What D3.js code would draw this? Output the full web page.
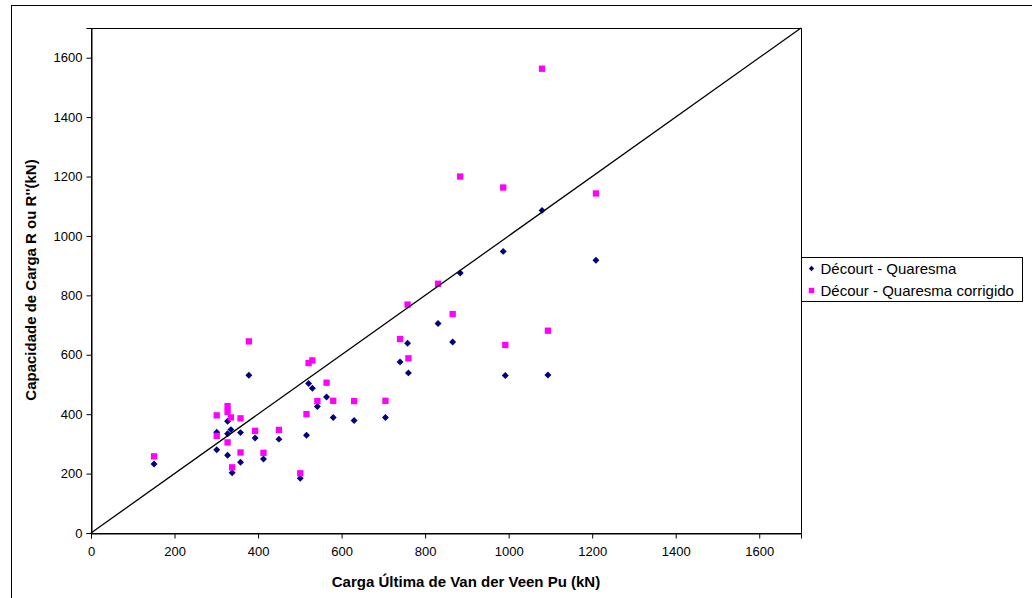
<!DOCTYPE html>
<html>
<head>
<meta charset="utf-8">
<script src="https://cdn.jsdelivr.net/npm/d3@7"></script>
<style>
  body { margin: 0; background: #fff; }
  svg { display: block; font-family: "Liberation Sans", Arial, sans-serif; }
</style>
</head>
<body>
<svg id="chart" width="1032" height="598"></svg>
<script>
// Carga Última de Van der Veen Pu (kN)
var pu = [151, 301, 301, 327, 327, 327, 335, 338, 358, 358, 378, 393, 413, 450, 501, 516,
          521, 530, 542, 564, 580, 630, 705, 740, 758, 760, 831, 866, 884, 987, 992, 1080, 1094, 1209];
// Décourt - Quaresma (R)
var decourt = [232, 339, 280, 376, 334, 262, 348, 203, 338, 238, 531, 320, 249, 316, 184, 329,
               503, 487, 426, 458, 389, 379, 389, 576, 639, 539, 705, 643, 875, 948, 530, 1086, 532, 918];
// Décour - Quaresma corrigido (R'')
var corrigido = [258, 396, 327, 427, 408, 305, 389, 221, 386, 271, 645, 344, 270, 347, 201, 400,
                 572, 581, 444, 506, 445, 444, 445, 653, 769, 588, 839, 737, 1200, 1163, 633, 1563, 681, 1143];
var ticks = [0, 200, 400, 600, 800, 1000, 1200, 1400, 1600];
var seriesNames = ["Décourt - Quaresma", "Décour - Quaresma corrigido"];

var svg = d3.select("#chart");
var pLeft = 91, pRight = 801, pTop = 28, pBottom = 533;

var x = d3.scaleLinear().domain([0, 1700]).range([pLeft, pRight]);
var y = d3.scaleLinear().domain([0, 1700]).range([pBottom, pTop]);

// moldura externa
svg.append("rect")
  .attr("x", 11.5).attr("y", 5.5)
  .attr("width", 1040).attr("height", 600)
  .attr("fill", "none").attr("stroke", "#000").attr("stroke-width", 1);

// area do grafico
svg.append("rect")
  .attr("x", pLeft + 0.5).attr("y", pTop + 0.5)
  .attr("width", pRight - pLeft).attr("height", pBottom - pTop)
  .attr("fill", "#fff").attr("stroke", "#000").attr("stroke-width", 1);

var xAxis = svg.append("g")
  .attr("transform", "translate(0," + (pBottom + 0.5) + ")")
  .call(d3.axisBottom(x).tickValues(ticks).tickSize(5).tickPadding(8).tickFormat(d3.format("d")));
var yAxis = svg.append("g")
  .attr("transform", "translate(" + (pLeft + 0.5) + ",0)")
  .call(d3.axisLeft(y).tickValues(ticks).tickSize(5).tickPadding(4).tickFormat(d3.format("d")));
[xAxis, yAxis].forEach(function(a){
  a.select(".domain").attr("stroke", "#000");
  a.selectAll("line").attr("stroke", "#000");
  a.selectAll("text").attr("font-size", "13px").attr("fill", "#000")
    .attr("font-family", "Liberation Sans, Arial, sans-serif");
});

// pontos
var diamond = d3.symbol().type(d3.symbolSquare).size(24);
var square = d3.symbol().type(d3.symbolSquare).size(40);

svg.append("g").selectAll("path")
  .data(pu.map(function(d, i){ return [d, decourt[i]]; }))
  .enter().append("path")
  .attr("d", diamond)
  .attr("transform", function(d){ return "translate(" + x(d[0]) + "," + y(d[1]) + ") rotate(45)"; })
  .attr("fill", "#000080");

svg.append("g").selectAll("path")
  .data(pu.map(function(d, i){ return [d, corrigido[i]]; }))
  .enter().append("path")
  .attr("d", square)
  .attr("transform", function(d){ return "translate(" + x(d[0]) + "," + y(d[1]) + ")"; })
  .attr("fill", "#ff00ff");

// reta 1:1
svg.append("line")
  .attr("x1", x(0)).attr("y1", y(0))
  .attr("x2", x(1700)).attr("y2", y(1700))
  .attr("stroke", "#000").attr("stroke-width", 1.3);

// titulos
svg.append("text")
  .attr("x", 466).attr("y", 587)
  .attr("text-anchor", "middle")
  .attr("font-size", "15px").attr("font-weight", "bold")
  .text("Carga Última de Van der Veen Pu (kN)");
svg.append("text")
  .attr("transform", "translate(36," + 280 + ") rotate(-90)")
  .attr("text-anchor", "middle")
  .attr("font-size", "15px").attr("font-weight", "bold")
  .text("Capacidade de Carga R ou R''(kN)");

// legenda
var leg = svg.append("g").attr("transform", "translate(801.5,257.5)");
leg.append("rect").attr("width", 221).attr("height", 44)
  .attr("fill", "#fff").attr("stroke", "#000");
var items = leg.selectAll("g.item").data(seriesNames).enter().append("g")
  .attr("transform", function(d, i){ return "translate(10," + (11 + i * 22) + ")"; });
items.append("path")
  .attr("d", function(d, i){ return i === 0 ? d3.symbol().type(d3.symbolSquare).size(14)() : d3.symbol().type(d3.symbolSquare).size(30)(); })
  .attr("transform", function(d, i){ return i === 0 ? "rotate(45)" : ""; })
  .attr("fill", function(d, i){ return i === 0 ? "#000080" : "#ff00ff"; });
items.append("text")
  .attr("x", 9).attr("dy", "0.35em")
  .attr("font-size", "15px")
  .text(function(d){ return d; });
</script>
</body>
</html>
